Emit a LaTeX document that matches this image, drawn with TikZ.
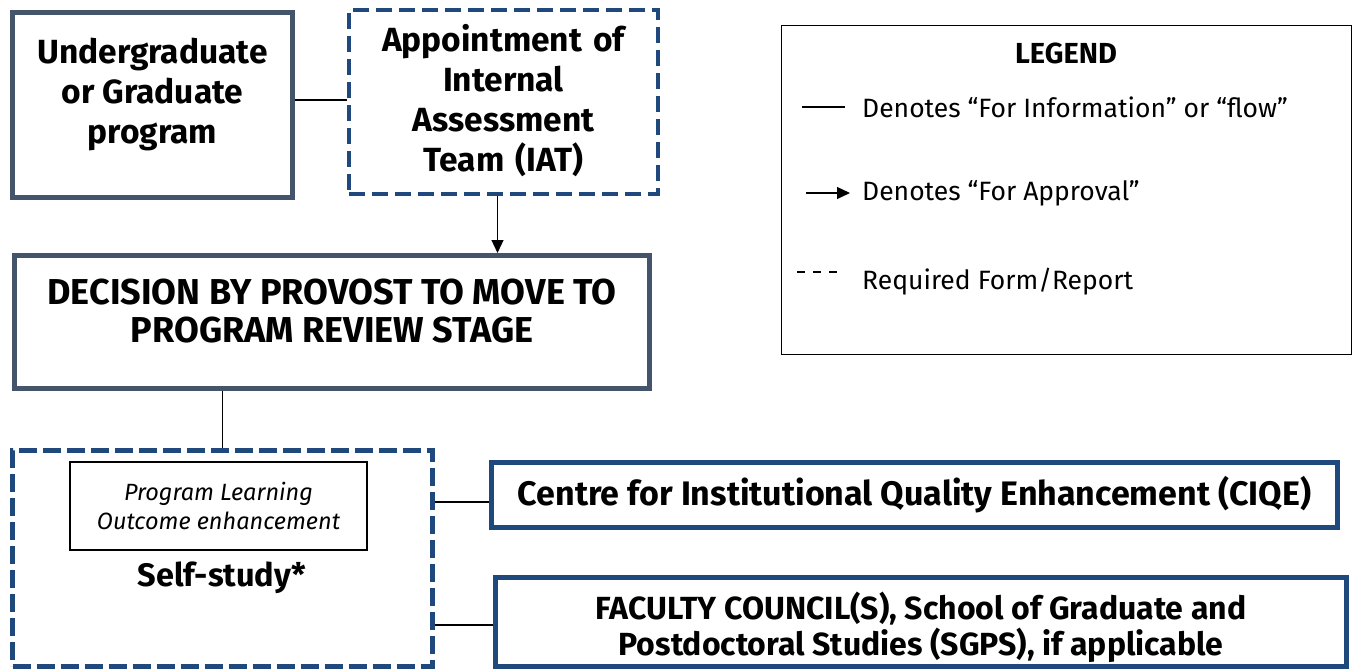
\documentclass[tikz,border=0pt]{standalone}
\usepackage{fontspec}
\setmainfont{Fira Sans}
\usetikzlibrary{arrows.meta}
\definecolor{slate}{HTML}{44546A}
\definecolor{navy}{HTML}{1F497D}
\tikzset{
  slatebox/.style={draw=slate, line width=5pt, rectangle, inner sep=0pt},
  navybox/.style={draw=navy, line width=5pt, rectangle, inner sep=0pt},
  dashbox/.style={draw=navy, line width=4.5pt, dash pattern=on 16pt off 7pt, rectangle, inner sep=0pt},
  thinbox/.style={draw=black, line width=1.5pt, rectangle, inner sep=0pt},
  link/.style={draw=black, line width=1.2pt},
  big/.style={font=\bfseries\fontsize{33.5}{40}\selectfont, align=center},
  legtext/.style={font=\fontsize{26.5}{30}\selectfont, anchor=west, inner sep=0pt},
}
\begin{document}
\begin{tikzpicture}[x=1pt,y=-1pt]
\useasboundingbox[fill=white] (0,0) rectangle (1356,671);

% Undergraduate box
\node[slatebox, minimum width=280pt, minimum height=185pt,
  label={[big, yshift=10pt]center:Undergraduate\\or Graduate\\program}] (A) at (152.5,105) {};
% IAT box
\node[dashbox, minimum width=309pt, minimum height=184pt,
  label={[big, text width=300pt, yshift=1pt]center:Appointment of\\Internal\\Assessment\\Team (IAT)}] (B) at (503.5,102) {};
% Decision box
\node[slatebox, minimum width=635pt, minimum height=133pt,
  label={[font=\bfseries\fontsize{36}{38}\selectfont, align=center, yshift=11pt]center:DECISION BY PROVOST TO MOVE TO\\PROGRAM REVIEW STAGE}] (C) at (332,322) {};
% Self-study dashed box
\node[dashbox, line width=5pt, dash pattern=on 18pt off 6pt, minimum width=420pt, minimum height=216pt] (D) at (222.5,558) {};
\node[thinbox, minimum width=297pt, minimum height=88pt,
  label={[font=\itshape\fontsize{23.5}{29}\selectfont, align=center]center:Program Learning\\Outcome enhancement}] (P) at (218.5,506) {};
\node[font=\bfseries\fontsize{32.5}{36}\selectfont] (S) at (222,578) {Self-study*};
% CIQE
\node[navybox, minimum width=846pt, minimum height=65pt,
  label={[font=\bfseries\fontsize{34}{40}\selectfont]center:Centre for Institutional Quality Enhancement (CIQE)}] (Q) at (914.5,495) {};
% Faculty
\node[navybox, minimum width=851pt, minimum height=89pt,
  label={[font=\bfseries\fontsize{32}{36}\selectfont, align=center, yshift=-5pt]center:FACULTY COUNCIL(S), School of Graduate and\\Postdoctoral Studies (SGPS), if applicable}] (F) at (921,622) {};
% Legend
\node[thinbox, minimum width=570pt, minimum height=329pt] (L) at (1066.5,190) {};
\node[font=\bfseries\fontsize{29}{32}\selectfont] (LT) at (1066,53) {LEGEND};
\node[legtext] (L1) at (862,107) {Denotes “For Information” or “flow”};
\node[legtext] (L2) at (862,193) {Denotes “For Approval”};
\node[legtext] (L3) at (862,282) {Required Form/Report};
\coordinate (l1a) at (802,107); \coordinate (l1b) at (845,107);
\coordinate (l2a) at (806,193); \coordinate (l2b) at (850,193);
\coordinate (l3a) at (797,272); \coordinate (l3b) at (840,272);
\draw[link] (l1a) -- (l1b);
\draw[link, -{Triangle[length=13pt,width=12pt]}] (l2a) -- (l2b);
\draw[link, line width=1.5pt, dash pattern=on 8pt off 8pt] (l3a) -- (l3b);

% connectors
\coordinate (ab) at (A.east |- 0,100);
\draw[link] (ab) -- (B.west |- ab);
\coordinate (bs) at ([xshift=-6pt]B.south);
\draw[link, -{Triangle[length=13pt,width=12pt]}] (bs) -- (bs |- C.north);
\draw[link] (C.south -| D.north) -- (D.north);
\coordinate (dq) at ([yshift=-7pt]Q.west);
\draw[link] (D.east |- dq) -- (dq);
\coordinate (df) at ([yshift=-3pt]F.west);
\draw[link] (D.east |- df) -- (df);
\end{tikzpicture}
\end{document}
